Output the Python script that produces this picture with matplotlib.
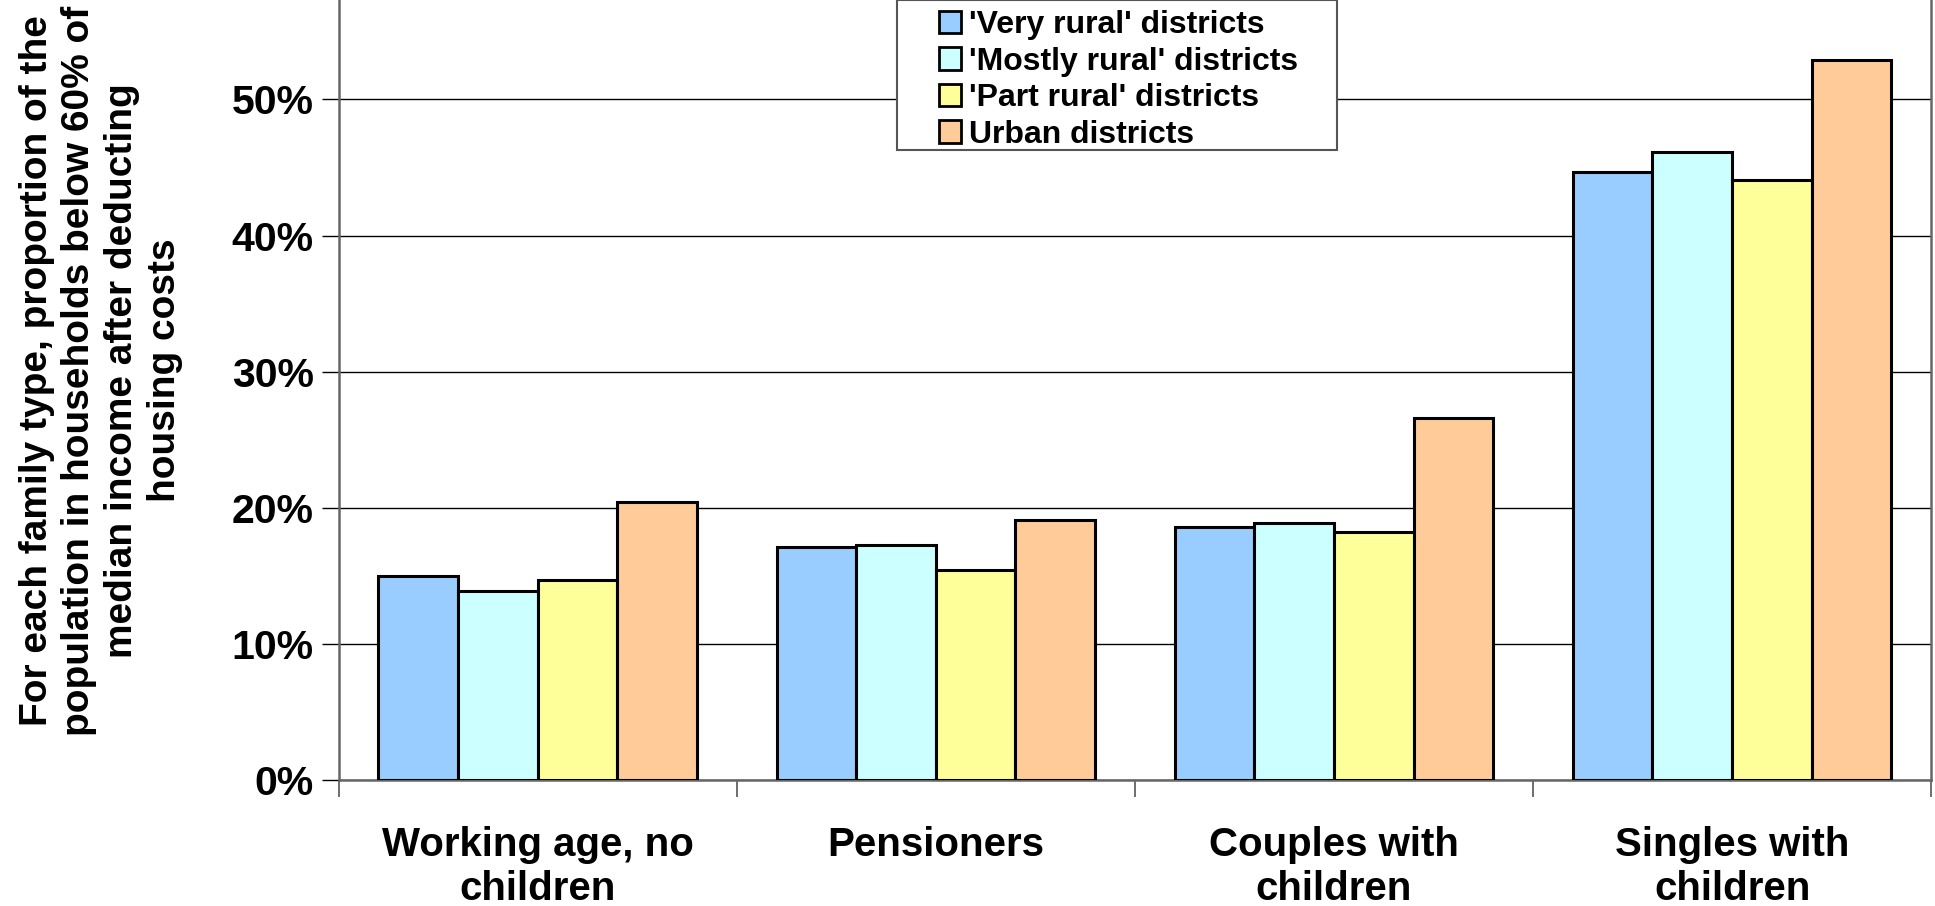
import numpy as np
import matplotlib
matplotlib.use('Agg')
import matplotlib.pyplot as plt
from matplotlib.patches import Rectangle
from matplotlib.ticker import FuncFormatter

# --- data ---
categories = ['Working age, no\nchildren', 'Pensioners', 'Couples with\nchildren', 'Singles with\nchildren']
series_names = ["'Very rural' districts", "'Mostly rural' districts", "'Part rural' districts", 'Urban districts']
very_rural = [15.0, 17.1, 18.6, 44.7]
mostly_rural = [13.9, 17.3, 18.9, 46.1]
part_rural = [14.7, 15.4, 18.2, 44.1]
urban = [20.4, 19.1, 26.6, 52.9]
colors = ['#99CCFF', '#CCFFFF', '#FFFF99', '#FFCC99']

plt.rcParams['font.family'] = ['Liberation Sans', 'DejaVu Sans']
plt.rcParams['font.weight'] = 'bold'

fig = plt.figure(figsize=(19.35, 9.06), dpi=100)
ax = fig.add_axes([0.175, 0.139, 0.823, 0.861])

x = np.arange(len(categories))
width = 0.2
all_series = [very_rural, mostly_rural, part_rural, urban]
for i, (vals, name, col) in enumerate(zip(all_series, series_names, colors)):
    ax.bar(x + (i - 1.5) * width, np.array(vals) / 100, width, color=col,
           edgecolor='black', linewidth=2.2, label=name, zorder=3)

ax.set_xlim(-0.5, 3.5)
ax.set_ylim(0, 0.573)
ax.set_yticks(np.arange(0, 0.51, 0.1))
ax.yaxis.set_major_formatter(FuncFormatter(lambda v, p: f'{v * 100:.0f}%'))
ax.grid(axis='y', color='black', linewidth=1.0, zorder=0)

ax.set_xticks(x)
ax.set_xticklabels(categories, fontsize=29, fontweight='bold')
ax.set_xticks(np.arange(-0.5, 3.6, 1), minor=True)
ax.tick_params(axis='x', which='major', length=0, pad=33)
ax.tick_params(axis='x', which='minor', length=12, width=1.2, color='#555555')
ax.tick_params(axis='y', length=12, width=1.0, labelsize=29.5, pad=6)
for lab in ax.get_yticklabels():
    lab.set_fontweight('bold')

for side in ['left', 'bottom', 'right']:
    ax.spines[side].set_color('#666666')
    ax.spines[side].set_linewidth(1.8)
ax.spines['top'].set_visible(False)

fig.text(0.052, 0.591,
         'For each family type, proportion of the\npopulation in households below 60% of\n'
         'median income after deducting\nhousing costs',
         rotation=90, ha='center', va='center', multialignment='center',
         fontsize=28, fontweight='bold', linespacing=1.24)

# legend box (Excel style: wide side padding)
box = Rectangle((0.4636, 0.8344), 0.2274, 0.1656, transform=fig.transFigure,
                facecolor='white', edgecolor='#555555', linewidth=1.5, zorder=5)
fig.patches.append(box)
leg = fig.legend(*ax.get_legend_handles_labels(), loc='upper left',
                 bbox_to_anchor=(0.4835, 0.992), fontsize=23,
                 frameon=False, handlelength=0.7, handleheight=0.7,
                 handletextpad=0.25, labelspacing=0.2, borderpad=0.1,
                 borderaxespad=0)
leg.set_zorder(6)
for t in leg.get_texts():
    t.set_fontweight('bold')
for h in leg.legend_handles:
    h.set_linewidth(2.0)

fig.savefig('out.png', dpi=100)
